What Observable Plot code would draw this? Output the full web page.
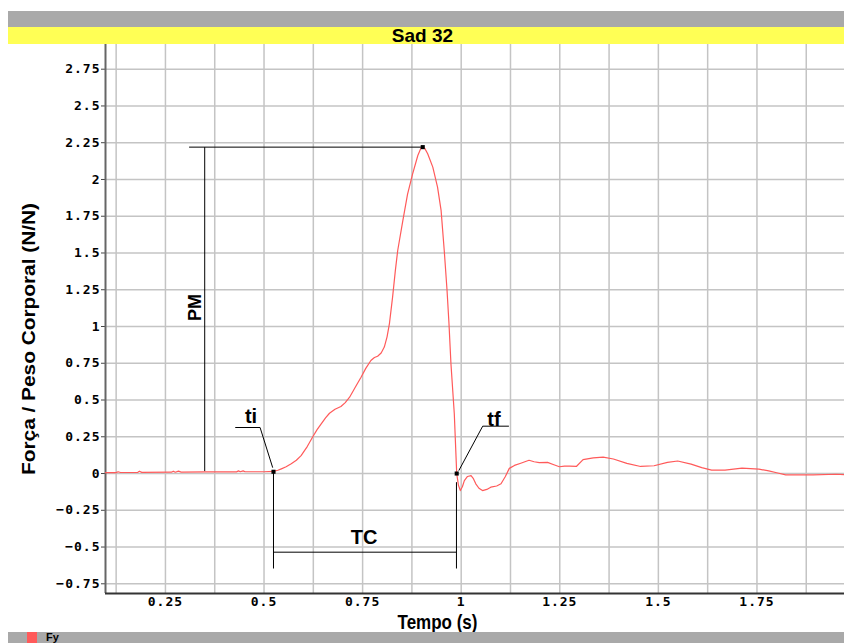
<!DOCTYPE html>
<html><head><meta charset="utf-8">
<script src="https://cdn.jsdelivr.net/npm/d3@7"></script>
<script src="https://cdn.jsdelivr.net/npm/@observablehq/plot@0.6"></script>
<style>
html,body{margin:0;padding:0;background:#fff}
body{width:844px;height:643px;overflow:hidden;position:relative;font-family:"Liberation Sans",Arial,sans-serif}
#gray{position:absolute;left:8px;top:11px;width:836px;height:16px;background:#a9a9a9}
#title{position:absolute;left:8px;top:27px;width:836px;height:17px;background:#ffff55}
#title span{position:absolute;left:0;top:-1px;width:829px;text-align:center;font-weight:bold;font-size:19px;line-height:19px;color:#000}
#chart{position:absolute;left:0;top:44px}
#foot{position:absolute;left:8px;top:632px;width:836px;height:11px;background:#a9a9a9}
#foot .sw{position:absolute;left:19px;top:0;width:10px;height:11px;background:#ff5a5a}
#foot .lb{position:absolute;left:38px;top:0;font-weight:bold;font-size:11px;line-height:11px;color:#000}
</style></head>
<body>
<div id="gray"></div>
<div id="title"><span>Sad 32</span></div>
<div id="chart"></div>
<div id="foot"><div class="sw"></div><div class="lb">Fy</div></div>
<script>
// ---- data ----
const time = [0.098,0.125,0.13,0.136,0.18,0.184,0.19,0.265,0.27,0.275,0.283,0.29,0.35,0.43,0.435,0.44,0.447,0.452,0.5,0.524,
  0.535,0.544,0.556,0.569,0.582,0.594,0.61,0.624,0.635,0.645,0.656,0.666,0.68,0.695,0.706,0.717,0.731,0.746,0.758,0.771,
  0.78,0.788,0.797,0.805,0.812,0.818,0.826,0.833,0.839,0.852,0.864,0.877,0.89,0.8975,0.9025,0.908,0.915,0.928,0.94,0.949,
  0.957,0.964,0.969,0.974,0.9825,0.9886,0.993,0.9978,1.003,1.008,1.016,1.025,1.031,1.037,1.045,1.054,1.065,1.075,1.09,1.101,
  1.112,1.122,1.135,1.151,1.172,1.185,1.198,1.219,1.235,1.249,1.262,1.275,1.292,1.309,1.335,1.36,1.386,1.42,1.455,1.489,
  1.523,1.549,1.583,1.61,1.635,1.669,1.712,1.755,1.78,1.8,1.823,1.892,1.951,1.972];
const force = [0.006,0.006,0.012,0.007,0.008,0.016,0.008,0.009,0.016,0.009,0.016,0.01,0.011,0.011,0.018,0.012,0.018,0.012,0.012,0.014,
  0.022,0.032,0.046,0.066,0.09,0.122,0.185,0.252,0.3,0.338,0.378,0.41,0.437,0.456,0.482,0.519,0.585,0.655,0.715,0.769,
  0.789,0.798,0.82,0.86,0.93,1.02,1.2,1.38,1.517,1.72,1.9,2.04,2.163,2.21,2.22,2.21,2.175,2.084,1.948,1.79,
  1.517,1.25,1.02,0.746,0.406,0.0,-0.08,-0.116,-0.09,-0.048,-0.02,-0.014,-0.035,-0.07,-0.1,-0.116,-0.108,-0.093,-0.085,-0.07,
  -0.02,0.035,0.055,0.07,0.09,0.08,0.074,0.076,0.06,0.046,0.05,0.051,0.048,0.095,0.106,0.112,0.099,0.069,0.048,0.053,
  0.076,0.085,0.064,0.04,0.023,0.023,0.037,0.03,0.018,0.005,-0.009,-0.009,-0.005,-0.008];

// marked points: ti, peak (PM), tf
const markTime = [0.524, 0.9025, 0.9886];
const markForce = [0.012, 2.22, 0.0];

// annotation segments (data units): PM bracket, TC bracket, leaders
const segX1 = [0.31, 0.3496, 0.524, 0.524, 0.988, 0.427, 0.490, 1.0545, 1.0545];
const segY1 = [2.22, 2.22, 0.012, -0.535, -0.059, 0.313, 0.313, 0.322, 0.322];
const segX2 = [0.9025, 0.3496, 0.524, 0.988, 0.988, 0.490, 0.522, 1.121, 0.994];
const segY2 = [2.22, 0.016, -0.646, -0.535, -0.646, 0.313, 0.04, 0.322, 0.02];

const annText = ["ti", "tf", "TC"];
const annTime = [0.467, 1.083, 0.754];
const annForce = [0.347, 0.32, -0.476];
const pmText = ["PM"];
const pmTime = [0.326];
const pmForce = [1.13];

const xDomain = [0.098, 1.972];
const yDomain = [-0.816, 2.918];
const xGrid = [0.125,0.25,0.375,0.5,0.625,0.75,0.875,1,1.125,1.25,1.375,1.5,1.625,1.75,1.875];
const yGrid = [-0.75,-0.5,-0.25,0,0.25,0.5,0.75,1,1.25,1.5,1.75,2,2.25,2.5,2.75];
const xTicks = [0.25,0.5,0.75,1,1.25,1.5,1.75];
const yTicks = [-0.75,-0.5,-0.25,0,0.25,0.5,0.75,1,1.25,1.5,1.75,2,2.25,2.5,2.75];
const xLabel = "Tempo (s)";
const yLabel = "Força / Peso Corporal (N/N)";

const curve = time.map((t, i) => ({t, v: force[i]}));
const marks = markTime.map((t, i) => ({t, v: markForce[i]}));
const segs = segX1.map((x1, i) => ({x1, y1: segY1[i], x2: segX2[i], y2: segY2[i]}));
const anns = annText.map((s, i) => ({s, t: annTime[i], v: annForce[i]}));
const pms = pmText.map((s, i) => ({s, t: pmTime[i], v: pmForce[i]}));

const fmt = d => (d < 0 ? "\u2212" : "") + String(Math.abs(d));
const lab = {fontFamily: "Liberation Sans, Arial, sans-serif", fontWeight: "bold", fill: "#000"};

const chart = Plot.plot({
  width: 844, height: 588,
  marginTop: 0, marginBottom: 39, marginLeft: 105, marginRight: 0,
  x: {domain: xDomain},
  y: {domain: yDomain},
  style: {fontFamily: "DejaVu Sans Mono, monospace", fontSize: "13px", fontWeight: "bold", color: "#000", background: "#fff", overflow: "visible"},
  marks: [
    Plot.ruleX(xGrid, {stroke: "#c4c4c4", strokeWidth: 1.5}),
    Plot.ruleY(yGrid, {stroke: "#c4c4c4", strokeWidth: 1.5}),
    Plot.axisY(yTicks, {tickSize: 4, tickPadding: 1, label: null, stroke: "#444", tickFormat: fmt}),
    Plot.axisX(xTicks, {tickSize: 0, tickPadding: 3, label: null, tickFormat: fmt}),
    Plot.ruleX([xDomain[0]], {stroke: "#666", strokeWidth: 2}),
    Plot.ruleY([yDomain[0]], {stroke: "#333", strokeWidth: 2}),
    Plot.link(segs, {x1: "x1", y1: "y1", x2: "x2", y2: "y2", stroke: "#000", strokeWidth: 1}),
    Plot.line(curve, {x: "t", y: "v", stroke: "#ff5a5a", strokeWidth: 1.2}),
    Plot.dot(marks, {x: "t", y: "v", symbol: "square", r: 2.3, fill: "#000"}),
    Plot.text(anns, {x: "t", y: "v", text: "s", fontSize: 20, lineAnchor: "bottom", ...lab}),
    Plot.text(pms, {x: "t", y: "v", text: "s", fontSize: 18, rotate: -90, ...lab}),
    Plot.text([yLabel], {text: d => d, frameAnchor: "left", textAnchor: "middle", lineAnchor: "middle", rotate: -90, dx: -77, dy: 20, fontSize: 19, ...lab}),
    Plot.text([xLabel], {text: d => d, frameAnchor: "bottom", textAnchor: "middle", lineAnchor: "middle", dx: -37.5, dy: 29, fontSize: 21, ...lab})
  ]
});
document.getElementById("chart").appendChild(chart);
d3.select(chart).selectAll('g[aria-label$="tick label"] text').style("letter-spacing", "1px");
d3.select(chart).selectAll("text").filter(function() { return this.textContent === yLabel; })
  .attr("textLength", 272).attr("lengthAdjust", "spacingAndGlyphs");
d3.select(chart).selectAll("text").filter(function() { return this.textContent === xLabel; })
  .attr("textLength", 80).attr("lengthAdjust", "spacingAndGlyphs");
</script>
</body></html>
